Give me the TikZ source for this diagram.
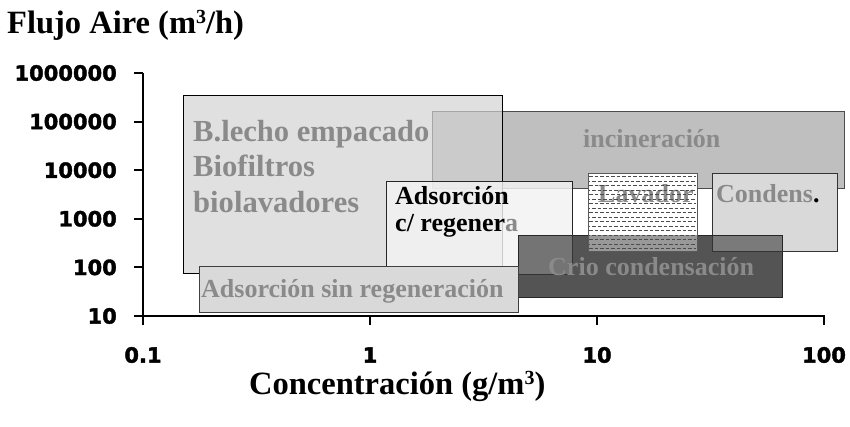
\documentclass[tikz,border=0pt]{standalone}
\usepackage{fontspec}
\setmainfont{Liberation Serif}
\newfontfamily\tickfont{DejaVu Sans}[BoldFeatures={FakeBold=1.8}]
\definecolor{incfill}{gray}{0.75}
\definecolor{incdraw}{gray}{0.30}
\definecolor{blfill}{gray}{0.824}
\definecolor{adcfill}{gray}{0.95}
\definecolor{crfill}{gray}{0.33}
\definecolor{boxgray}{gray}{0.85}
\definecolor{txtgray}{gray}{0.54}
\definecolor{p1fill}{gray}{0.455}
\definecolor{p2fill}{gray}{0.48}
\definecolor{p3fill}{gray}{0.60}
\definecolor{dashcol}{gray}{0.30}
\tikzset{
  boxtext/.style={anchor=base west, inner sep=0pt, font=\bfseries\fontsize{26}{27}\selectfont, align=left},
  bigtext/.style={anchor=base west, inner sep=0pt, font=\bfseries\fontsize{30.6}{35.5}\selectfont, text=txtgray, align=left},
  ticklab/.style={inner sep=0pt, font=\tickfont\bfseries\fontsize{21}{22}\selectfont},
  titletext/.style={anchor=base west, inner sep=0pt, font=\bfseries\fontsize{32.5}{34}\selectfont},
  thinbox/.style={line width=0.9pt},
  dashrow/.style={draw=dashcol, line width=0.8pt, dash pattern=on 3.5pt off 2pt},
}
\newcommand{\supthree}{\raisebox{10pt}{\bfseries\fontsize{20}{20}\selectfont 3}}
\begin{document}
\begin{tikzpicture}[x=1pt,y=-1pt]
\useasboundingbox (0,0) rectangle (850,427);
% incineracion
\draw[thinbox, fill=incfill, draw=incdraw] (432,111) rectangle (844,188);
% B.lecho (semi-transparent over incineracion)
\draw[thinbox, fill=blfill, fill opacity=0.68, draw=black] (183,95) rectangle (502,273);
% Adsorcion c/ regenera
\draw[thinbox, fill=adcfill, fill opacity=0.83, draw=black!85] (386,181) rectangle (572,274);
% Crio condensacion
\draw[thinbox, fill=crfill, draw=black!85] (518,235) rectangle (782,297);
% patch adsorcion c/ over crio
\fill[p1fill] (518,235) rectangle (572,274);
\draw[thinbox, draw=black!80] (518,274) -- (572,274) -- (572,235);
\draw[thinbox, draw=black!85] (518,274) -- (518,235) -- (572,235);
% Adsorcion sin regeneracion
\draw[thinbox, fill=boxgray, draw=black!75] (199,266) rectangle (518,312);
% Condens.
\draw[thinbox, fill=boxgray, draw=black!80] (712,173) rectangle (837,251);
\fill[p2fill] (712,235) rectangle (782,251);
\draw[thinbox, draw=black!80] (712,235) -- (712,251) -- (782,251);
\draw[thinbox, draw=black!85] (712,235) -- (782,235) -- (782,251);
% Lavador
\fill[white] (588,173) rectangle (697,251);
\fill[p3fill] (588,235) rectangle (697,251);
\node[boxtext, text=txtgray] (lav) at (598,203) {Lavador};
\foreach \i in {0,2,...,16} {
  \draw[dashrow] (589,{176.5+4.5*\i}) -- (696,{176.5+4.5*\i});
}
\foreach \i in {1,3,...,15} {
  \draw[dashrow, dash phase=2.5pt] (589,{176.5+4.5*\i}) -- (696,{176.5+4.5*\i});
}
\draw[thinbox, draw=black!65] (588,173) rectangle (697,251);
% texts
\node[bigtext] (bl1) at (193,142) {B.lecho empacado};
\node[bigtext] (bl2) at (193,177) {Biofiltros};
\node[bigtext] (bl3) at (193,213) {biolavadores};
\node[boxtext, text=txtgray] (inc) at (583,148) {incineración};
\node[boxtext, text=black] (ad1) at (395,205) {Adsorción};
\node[boxtext, text=black] (ad2) at (395,232) {c/ regener\textcolor{txtgray}{a}};
\node[boxtext, text=txtgray] (con) at (716,203) {Condens\textcolor{black}{.}};
\node[boxtext, text=txtgray] (cri) at (548,276) {Crio condensación};
\node[boxtext, text=txtgray] (ads) at (201,298) {Adsorción sin regeneración};
% axes
\draw[line width=2pt] (143,73) -- (143,316) -- (825,316);
\foreach \k/\lab in {0/10,1/100,2/1000,3/10000,4/100000,5/1000000} {
  \draw[line width=2pt] (134,{316-48.6*\k}) -- (143,{316-48.6*\k});
  \node[ticklab, anchor=east] (y\k) at (117,{316-48.6*\k}) {\lab};
}
\foreach \k/\lab in {0/0.1,1/1,2/10,3/100} {
  \draw[line width=2pt] ({143+227*\k},316) -- ({143+227*\k},325);
  \node[ticklab, anchor=center] (x\k) at ({143+227*\k},355) {\lab};
}
% titles
\node[titletext] (ytitle) at (7,34) {Flujo Aire (m\supthree/h)};
\node[titletext] (xtitle) at (249,394) {Concentración (g/m\supthree)};
\end{tikzpicture}
\end{document}
